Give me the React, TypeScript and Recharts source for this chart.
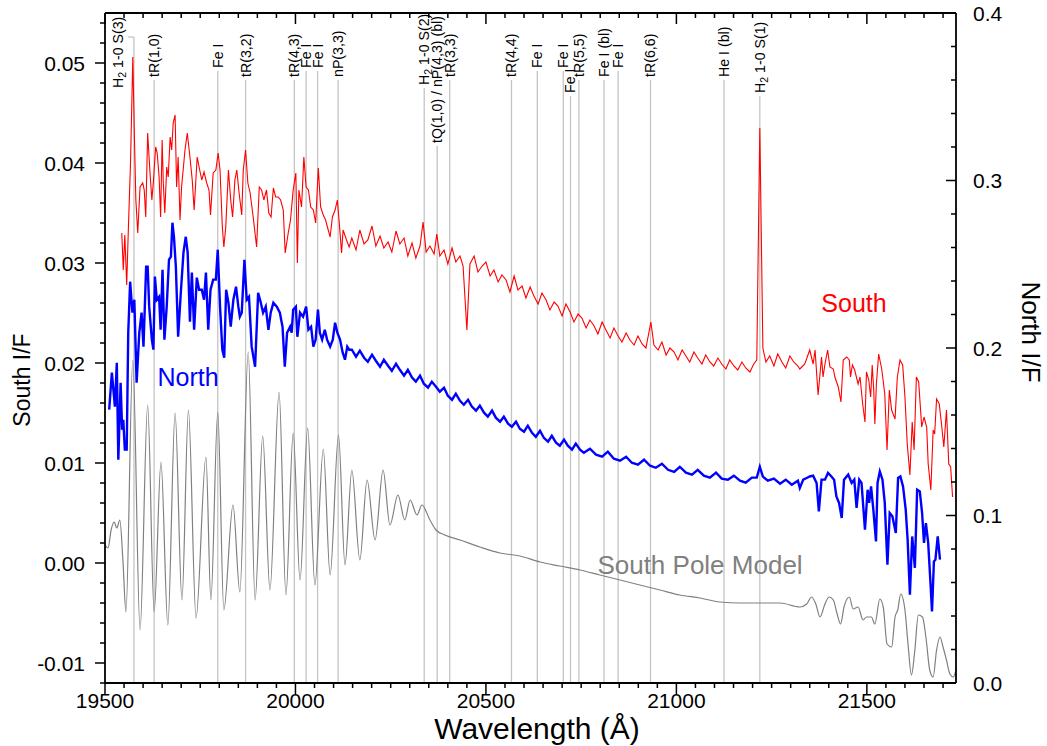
import React from "react";
import { LineChart, Line, XAxis, YAxis, ReferenceLine } from "recharts";

// South spectrum, South I/F (left axis)
const SOUTH_WL = [
  19544, 19548, 19552, 19557, 19561, 19567, 19573, 19577, 19581, 19586, 19592, 19599, 19603, 19607, 19612,
  19618, 19623, 19627, 19633, 19637, 19642, 19646, 19650, 19653, 19657, 19662, 19666, 19671, 19675, 19679,
  19684, 19688, 19692, 19697, 19701, 19710, 19716, 19723, 19729, 19734, 19742, 19747, 19754, 19760, 19767,
  19773, 19777, 19784, 19791, 19797, 19802, 19808, 19812, 19817, 19824, 19830, 19835, 19841, 19846, 19852,
  19859, 19863, 19869, 19875, 19881, 19889, 19898, 19905, 19911, 19917, 19924, 19930, 19936, 19942, 19948,
  19955, 19961, 19968, 19973, 19981, 19987, 19994, 20001, 20005, 20009, 20016, 20022, 20028, 20034, 20040,
  20047, 20053, 20060, 20066, 20073, 20079, 20086, 20091, 20097, 20104, 20110, 20115, 20121, 20125, 20134,
  20141, 20148, 20159, 20169, 20180, 20190, 20201, 20211, 20222, 20232, 20243, 20253, 20264, 20274, 20285,
  20295, 20306, 20316, 20327, 20335, 20343, 20353, 20364, 20371, 20379, 20390, 20400, 20411, 20421, 20432,
  20440, 20450, 20458, 20469, 20479, 20490, 20500, 20511, 20521, 20532, 20542, 20553, 20563, 20574, 20584,
  20595, 20605, 20616, 20626, 20637, 20647, 20658, 20668, 20679, 20689, 20700, 20710, 20721, 20731, 20742,
  20752, 20763, 20773, 20784, 20794, 20805, 20815, 20826, 20836, 20847, 20857, 20868, 20878, 20889, 20899,
  20910, 20920, 20933, 20941, 20952, 20962, 20973, 20983, 20994, 21004, 21015, 21025, 21035, 21046, 21056,
  21067, 21077, 21088, 21098, 21109, 21119, 21130, 21140, 21151, 21161, 21172, 21182, 21193, 21203, 21211,
  21219, 21227, 21235, 21245, 21256, 21266, 21277, 21287, 21298, 21308, 21319, 21324, 21337, 21350, 21359,
  21364, 21372, 21381, 21385, 21390, 21397, 21403, 21412, 21416, 21425, 21432, 21438, 21447, 21454, 21457,
  21462, 21468, 21477, 21482, 21489, 21495, 21499, 21505, 21510, 21514, 21518, 21521, 21525, 21531, 21539,
  21547, 21553, 21559, 21565, 21574, 21580, 21587, 21594, 21600, 21606, 21613, 21619, 21624, 21630, 21636,
  21644, 21650, 21657, 21661, 21668, 21674, 21678, 21683, 21690, 21696, 21702, 21709, 21715, 21720, 21725,
];
const SOUTH_IF = [
  0.0330, 0.0293, 0.0328, 0.0278, 0.0330, 0.0400, 0.0506, 0.0430, 0.0363, 0.0330, 0.0376, 0.0380, 0.0373, 0.0346, 0.0430,
  0.0391, 0.0363, 0.0381, 0.0416, 0.0410, 0.0386, 0.0346, 0.0423, 0.0380, 0.0350, 0.0396, 0.0386, 0.0426, 0.0413, 0.0440,
  0.0448, 0.0376, 0.0406, 0.0343, 0.0376, 0.0413, 0.0430, 0.0406, 0.0383, 0.0353, 0.0406, 0.0396, 0.0383, 0.0391, 0.0380,
  0.0373, 0.0348, 0.0390, 0.0393, 0.0410, 0.0393, 0.0336, 0.0316, 0.0336, 0.0393, 0.0363, 0.0346, 0.0383, 0.0393, 0.0370,
  0.0348, 0.0393, 0.0413, 0.0380, 0.0370, 0.0346, 0.0316, 0.0376, 0.0373, 0.0363, 0.0373, 0.0350, 0.0346, 0.0375, 0.0366,
  0.0366, 0.0363, 0.0353, 0.0310, 0.0330, 0.0343, 0.0373, 0.0390, 0.0300, 0.0373, 0.0356, 0.0406, 0.0376, 0.0373, 0.0356,
  0.0353, 0.0340, 0.0395, 0.0356, 0.0348, 0.0343, 0.0333, 0.0326, 0.0346, 0.0353, 0.0363, 0.0340, 0.0310, 0.0333, 0.0323,
  0.0316, 0.0325, 0.0313, 0.0333, 0.0319, 0.0323, 0.0337, 0.0317, 0.0327, 0.0315, 0.0321, 0.0311, 0.0332, 0.0319, 0.0325,
  0.0307, 0.0320, 0.0305, 0.0317, 0.0341, 0.0311, 0.0317, 0.0309, 0.0329, 0.0307, 0.0313, 0.0299, 0.0315, 0.0301, 0.0307,
  0.0297, 0.0233, 0.0299, 0.0307, 0.0291, 0.0297, 0.0301, 0.0287, 0.0293, 0.0281, 0.0288, 0.0283, 0.0271, 0.0287, 0.0273,
  0.0277, 0.0265, 0.0276, 0.0267, 0.0259, 0.0270, 0.0263, 0.0253, 0.0261, 0.0257, 0.0247, 0.0259, 0.0251, 0.0241, 0.0249,
  0.0245, 0.0235, 0.0243, 0.0237, 0.0229, 0.0241, 0.0233, 0.0225, 0.0235, 0.0227, 0.0221, 0.0230, 0.0223, 0.0218, 0.0227,
  0.0219, 0.0215, 0.0241, 0.0218, 0.0213, 0.0221, 0.0208, 0.0215, 0.0211, 0.0203, 0.0213, 0.0207, 0.0201, 0.0211, 0.0205,
  0.0199, 0.0208, 0.0201, 0.0197, 0.0205, 0.0199, 0.0194, 0.0203, 0.0197, 0.0193, 0.0201, 0.0195, 0.0191, 0.0199, 0.0203,
  0.0435, 0.0215, 0.0201, 0.0207, 0.0197, 0.0209, 0.0201, 0.0195, 0.0207, 0.0201, 0.0197, 0.0194, 0.0199, 0.0213, 0.0199,
  0.0213, 0.0168, 0.0206, 0.0186, 0.0199, 0.0213, 0.0196, 0.0194, 0.0186, 0.0176, 0.0161, 0.0203, 0.0206, 0.0203, 0.0186,
  0.0198, 0.0193, 0.0179, 0.0186, 0.0159, 0.0141, 0.0191, 0.0183, 0.0166, 0.0198, 0.0173, 0.0139, 0.0179, 0.0209, 0.0194,
  0.0169, 0.0113, 0.0173, 0.0153, 0.0144, 0.0186, 0.0203, 0.0198, 0.0166, 0.0119, 0.0088, 0.0141, 0.0113, 0.0186, 0.0181,
  0.0136, 0.0146, 0.0136, 0.0099, 0.0073, 0.0133, 0.0129, 0.0164, 0.0159, 0.0139, 0.0116, 0.0153, 0.0099, 0.0096, 0.0066,
];

// North spectrum, North I/F (right axis)
const NORTH_WL = [
  19511, 19518, 19522, 19526, 19531, 19535, 19541, 19545, 19548, 19552, 19557, 19561, 19566, 19572, 19577,
  19583, 19590, 19596, 19601, 19608, 19612, 19616, 19623, 19627, 19631, 19636, 19642, 19646, 19651, 19656,
  19662, 19668, 19673, 19677, 19681, 19686, 19692, 19699, 19706, 19712, 19717, 19723, 19728, 19734, 19741,
  19747, 19754, 19760, 19765, 19771, 19777, 19784, 19791, 19796, 19802, 19808, 19813, 19818, 19824, 19830,
  19837, 19844, 19850, 19854, 19859, 19866, 19872, 19878, 19885, 19894, 19902, 19909, 19915, 19922, 19929,
  19935, 19942, 19951, 19959, 19966, 19972, 19978, 19986, 19990, 19994, 20001, 20005, 20012, 20020, 20028,
  20034, 20041, 20047, 20053, 20059, 20064, 20070, 20077, 20083, 20091, 20098, 20104, 20110, 20117, 20124,
  20130, 20136, 20141, 20148, 20159, 20169, 20180, 20190, 20201, 20211, 20222, 20232, 20243, 20253, 20264,
  20274, 20285, 20295, 20306, 20316, 20327, 20337, 20348, 20358, 20369, 20379, 20390, 20400, 20411, 20421,
  20432, 20442, 20453, 20463, 20474, 20484, 20495, 20505, 20516, 20526, 20537, 20547, 20558, 20568, 20579,
  20589, 20600, 20610, 20621, 20631, 20642, 20652, 20663, 20673, 20684, 20694, 20705, 20715, 20726, 20736,
  20747, 20757, 20773, 20789, 20805, 20820, 20836, 20852, 20868, 20883, 20899, 20915, 20931, 20946, 20962,
  20978, 20994, 21009, 21025, 21041, 21056, 21072, 21088, 21104, 21119, 21135, 21151, 21167, 21182, 21198,
  21211, 21219, 21227, 21240, 21256, 21272, 21287, 21303, 21319, 21324, 21333, 21342, 21350, 21359, 21368,
  21374, 21381, 21390, 21398, 21407, 21414, 21420, 21427, 21434, 21440, 21451, 21460, 21467, 21473, 21480,
  21486, 21495, 21502, 21506, 21511, 21517, 21524, 21528, 21534, 21541, 21547, 21554, 21560, 21567, 21576,
  21582, 21588, 21595, 21602, 21607, 21613, 21619, 21626, 21632, 21639, 21645, 21650, 21655, 21661, 21667,
  21671, 21676, 21680, 21686, 21692,
];
const NORTH_IF = [
  0.1632, 0.1853, 0.1751, 0.1650, 0.1912, 0.1333, 0.1793, 0.1512, 0.1572, 0.1393, 0.1393, 0.2091, 0.2396, 0.2211, 0.2288,
  0.1793, 0.2091, 0.2211, 0.2008, 0.2485, 0.2485, 0.2247, 0.2050, 0.1990, 0.2426, 0.2288, 0.2306, 0.2109, 0.2467, 0.2050,
  0.2247, 0.2527, 0.2545, 0.2748, 0.2664, 0.2485, 0.2067, 0.2330, 0.2569, 0.2664, 0.2569, 0.2157, 0.2450, 0.2109, 0.2420,
  0.2348, 0.2348, 0.2288, 0.2450, 0.2109, 0.2348, 0.2408, 0.2408, 0.2587, 0.2247, 0.1990, 0.1942, 0.2348, 0.2270, 0.2127,
  0.2288, 0.2366, 0.2247, 0.2187, 0.2211, 0.2527, 0.2288, 0.2306, 0.2008, 0.1888, 0.2330, 0.2270, 0.2211, 0.2247, 0.2109,
  0.2211, 0.2270, 0.2247, 0.2211, 0.2127, 0.1888, 0.2091, 0.2127, 0.2091, 0.2229, 0.2247, 0.2067, 0.2211, 0.2187, 0.2247,
  0.2109, 0.2127, 0.2008, 0.2050, 0.2229, 0.2091, 0.2050, 0.2109, 0.2050, 0.2008, 0.2050, 0.2151, 0.2091, 0.2050, 0.1972,
  0.1930, 0.2008, 0.1990, 0.1990, 0.1948, 0.1984, 0.1942, 0.1918, 0.1960, 0.1924, 0.1888, 0.1930, 0.1894, 0.1864, 0.1906,
  0.1870, 0.1835, 0.1870, 0.1823, 0.1799, 0.1835, 0.1787, 0.1763, 0.1799, 0.1769, 0.1739, 0.1763, 0.1715, 0.1691, 0.1727,
  0.1685, 0.1661, 0.1691, 0.1650, 0.1626, 0.1656, 0.1614, 0.1590, 0.1626, 0.1584, 0.1560, 0.1590, 0.1548, 0.1530, 0.1560,
  0.1518, 0.1500, 0.1536, 0.1494, 0.1470, 0.1506, 0.1464, 0.1441, 0.1476, 0.1435, 0.1417, 0.1453, 0.1417, 0.1393, 0.1429,
  0.1393, 0.1375, 0.1399, 0.1363, 0.1351, 0.1381, 0.1339, 0.1327, 0.1351, 0.1315, 0.1303, 0.1333, 0.1297, 0.1285, 0.1309,
  0.1273, 0.1261, 0.1291, 0.1256, 0.1244, 0.1273, 0.1238, 0.1226, 0.1256, 0.1220, 0.1214, 0.1238, 0.1208, 0.1196, 0.1226,
  0.1226, 0.1291, 0.1232, 0.1208, 0.1220, 0.1190, 0.1214, 0.1184, 0.1208, 0.1164, 0.1214, 0.1224, 0.1233, 0.1238, 0.1194,
  0.1024, 0.1214, 0.1214, 0.1254, 0.1233, 0.1214, 0.1114, 0.1075, 0.0985, 0.1214, 0.1244, 0.1194, 0.1214, 0.1045, 0.1214,
  0.1194, 0.0915, 0.1154, 0.1075, 0.1174, 0.1035, 0.0845, 0.1194, 0.1263, 0.1214, 0.1075, 0.0706, 0.1015, 0.0995, 0.0896,
  0.1224, 0.1233, 0.1174, 0.1035, 0.0856, 0.0527, 0.0875, 0.0687, 0.1154, 0.1144, 0.1015, 0.0836, 0.0955, 0.0836, 0.0597,
  0.0427, 0.0726, 0.0736, 0.0875, 0.0736,
];

// South Pole model (left axis)
const MODEL_WL = [
  19500, 19508, 19516, 19524, 19531, 19539, 19547, 19555, 19573, 19592, 19612, 19629, 19647, 19665, 19684,
  19702, 19719, 19739, 19765, 19778, 19796, 19812, 19836, 19854, 19876, 19894, 19914, 19933, 19957, 19975,
  19994, 20012, 20032, 20051, 20073, 20091, 20113, 20130, 20148, 20169, 20188, 20209, 20230, 20248, 20269,
  20287, 20301, 20319, 20332, 20353, 20369, 20392, 20432, 20484, 20537, 20589, 20642, 20694, 20747, 20799,
  20852, 20904, 20957, 21009, 21062, 21114, 21167, 21219, 21272, 21324, 21342, 21355, 21366, 21377, 21390,
  21401, 21412, 21422, 21431, 21440, 21454, 21464, 21477, 21490, 21499, 21512, 21521, 21534, 21543, 21553,
  21565, 21574, 21581, 21589, 21600, 21608, 21617, 21626, 21635, 21646, 21655, 21665, 21674, 21683, 21692,
  21700, 21709, 21718, 21727, 21734,
];
const MODEL_IF = [
  0.0018, 0.0015, 0.0033, 0.0041, 0.0035, 0.0043, 0.0003, -0.0049, 0.0203, -0.0067, 0.0158, -0.0049, 0.0101, -0.0062, 0.0150,
  -0.0037, 0.0153, -0.0055, 0.0106, -0.0037, 0.0151, -0.0047, 0.0058, -0.0029, 0.0211, -0.0037, 0.0127, -0.0027, 0.0171, -0.0032,
  0.0130, -0.0017, 0.0135, -0.0022, 0.0114, -0.0012, 0.0128, -0.0002, 0.0093, 0.0003, 0.0083, 0.0023, 0.0093, 0.0038, 0.0068,
  0.0043, 0.0063, 0.0048, 0.0058, 0.0043, 0.0033, 0.0028, 0.0023, 0.0016, 0.0010, 0.0007, 0.0001, -0.0003, -0.0007, -0.0012,
  -0.0017, -0.0022, -0.0027, -0.0032, -0.0035, -0.0039, -0.0040, -0.0040, -0.0040, -0.0044, -0.0041, -0.0034, -0.0041, -0.0054, -0.0041,
  -0.0034, -0.0037, -0.0051, -0.0061, -0.0044, -0.0034, -0.0046, -0.0044, -0.0057, -0.0054, -0.0054, -0.0061, -0.0036, -0.0044, -0.0081,
  -0.0084, -0.0054, -0.0047, -0.0031, -0.0047, -0.0081, -0.0112, -0.0087, -0.0052, -0.0054, -0.0074, -0.0107, -0.0114, -0.0087, -0.0074,
  -0.0084, -0.0097, -0.0111, -0.0114, -0.0107,
];

// Line identifications
const LINE_WL = [
  19576, 19629, 19796, 19869, 19997, 20028, 20058, 20112, 20338, 20372, 20405,
  20567, 20635, 20703, 20722, 20744, 20810, 20847, 20932, 21125, 21219,
];
const LINE_LABEL = [
  "H2 1-0 S(3)", "tR(1,0)", "Fe I", "tR(3,2)", "tR(4,3)", "Fe I", "Fe I", "nP(3,3)", "H2 1-0 S(2)",
  "tQ(1,0) / nP(4,3) (bl)", "tR(3,3)", "tR(4,4)", "Fe I", "Fe I", "Fe I", "tR(5,5)", "Fe I (bl)", "Fe I",
  "tR(6,6)", "He I (bl)", "H2 1-0 S(1)",
];
// where each marker starts, px below the top of the plot
const LINE_DROP = [24, 67, 58, 67, 67, 58, 58, 67, 75, 133, 67, 67, 58, 58, 83, 67, 67, 58, 67, 67, 83];

const X_DOMAIN = [19500, 21734];
const LEFT_DOMAIN = [-0.012, 0.055];
const RIGHT_DOMAIN = [0, 0.4];

const X_TICKS = Array.from({ length: 45 }, (_, i) => 19500 + 50 * i);
const LEFT_TICKS = Array.from({ length: 34 }, (_, i) => (i - 6) * 0.002);
const RIGHT_TICKS = Array.from({ length: 21 }, (_, i) => i * 0.02);

const FONT = "'Liberation Sans', Arial, sans-serif";
const LINE_GREY = "#c4c4c4";
const TICK_FONT = 21;

const pair = (wl: number[], v: number[]) => wl.map((w, i) => ({ wl: w, v: v[i] }));
const southData = pair(SOUTH_WL, SOUTH_IF);
const northData = pair(NORTH_WL, NORTH_IF);
const modelData = pair(MODEL_WL, MODEL_IF);

const isMajor = (v: number, step: number) => Math.abs(v / step - Math.round(v / step)) < 1e-6;

const BottomTick = (p: any) => {
  const v = p.payload.value;
  const major = isMajor(v, 500);
  return (
    <g>
      <line x1={p.x} x2={p.x} y1={p.y} y2={p.y + (major ? 11 : 5)} stroke="#000" strokeWidth={1.5} />
      {major && (
        <text x={p.x} y={p.y + 25} textAnchor="middle" fontSize={TICK_FONT} fontFamily={FONT} fill="#000">
          {v}
        </text>
      )}
    </g>
  );
};

const TopTick = (p: any) => {
  const major = isMajor(p.payload.value, 500);
  return <line x1={p.x} x2={p.x} y1={p.y} y2={p.y + (major ? 11 : 5)} stroke="#000" strokeWidth={1.5} />;
};

const LeftTick = (p: any) => {
  const v = p.payload.value;
  const major = isMajor(v, 0.01);
  return (
    <g>
      <line x1={p.x - (major ? 10 : 5)} x2={p.x} y1={p.y} y2={p.y} stroke="#000" strokeWidth={1.5} />
      {major && (
        <text x={p.x - 20} y={p.y + 7.5} textAnchor="end" fontSize={TICK_FONT} fontFamily={FONT} fill="#000">
          {Math.abs(v) < 1e-9 ? "0.00" : v.toFixed(2)}
        </text>
      )}
    </g>
  );
};

const RightTick = (p: any) => {
  const v = p.payload.value;
  const major = isMajor(v, 0.1);
  return (
    <g>
      <line x1={p.x - (major ? 10 : 5)} x2={p.x} y1={p.y} y2={p.y} stroke="#000" strokeWidth={1.5} />
      {major && (
        <text x={p.x + 17} y={p.y + 7.5} textAnchor="start" fontSize={TICK_FONT} fontFamily={FONT} fill="#000">
          {v.toFixed(1)}
        </text>
      )}
    </g>
  );
};

const renderLabel = (label: string) => {
  if (label.startsWith("H2 ")) {
    return [
      <tspan key="a">H</tspan>,
      <tspan key="b" dy={4} fontSize={10.5}>2</tspan>,
      <tspan key="c" dy={-4}>{label.slice(2)}</tspan>,
    ];
  }
  return label;
};

const markerShape = (i: number) => (p: any) => {
  const x = p.x1;
  const top = Math.min(p.y1, p.y2);
  const bottom = Math.max(p.y1, p.y2);
  const y0 = top + LINE_DROP[i];
  const bracket = i === 0;
  const lx = bracket ? x - 16 : x;
  const ly = bracket ? y0 + 51 : y0 - 3;
  return (
    <g>
      <line x1={x} x2={x} y1={y0} y2={bottom} stroke={LINE_GREY} strokeWidth={1.3} />
      {bracket && <line x1={x - 6} x2={x} y1={y0} y2={y0} stroke={LINE_GREY} strokeWidth={1.3} />}
      <text
        x={lx}
        y={ly}
        transform={`rotate(-90 ${lx} ${ly})`}
        fontSize={14.2}
        fontFamily={FONT}
        fill="#000"
        dominantBaseline="central"
      >
        {renderLabel(LINE_LABEL[i])}
      </text>
    </g>
  );
};

const axisLine = { stroke: "#000", strokeWidth: 1.8 };

const textStyle = (left: number, top: number, size: number, color: string, rotate = 0): React.CSSProperties => ({
  position: "absolute",
  left,
  top,
  transform: `translate(-50%, -50%) rotate(${rotate}deg)`,
  fontSize: size,
  color,
  whiteSpace: "nowrap",
  lineHeight: 1,
});

export default function App() {
  return (
    <div style={{ position: "relative", width: 1047, height: 746, fontFamily: FONT, background: "#fff" }}>
      <style>{"body{margin:0}"}</style>
      <LineChart width={1047} height={746} margin={{ top: 0, right: 0, bottom: 0, left: 0 }}>
        <XAxis
          xAxisId="b"
          dataKey="wl"
          type="number"
          domain={X_DOMAIN}
          allowDataOverflow
          ticks={X_TICKS}
          interval={0}
          height={63}
          tickSize={0}
          tickMargin={0}
          tickLine={false}
          axisLine={axisLine}
          tick={<BottomTick />}
        />
        <XAxis
          xAxisId="t"
          orientation="top"
          dataKey="wl"
          type="number"
          domain={X_DOMAIN}
          allowDataOverflow
          ticks={X_TICKS}
          interval={0}
          height={13}
          tickSize={0}
          tickMargin={0}
          tickLine={false}
          axisLine={axisLine}
          tick={<TopTick />}
        />
        <YAxis
          yAxisId="left"
          type="number"
          domain={LEFT_DOMAIN}
          allowDataOverflow
          ticks={LEFT_TICKS}
          interval={0}
          width={105}
          tickSize={0}
          tickMargin={0}
          tickLine={false}
          axisLine={axisLine}
          tick={<LeftTick />}
        />
        <YAxis
          yAxisId="right"
          orientation="right"
          type="number"
          domain={RIGHT_DOMAIN}
          allowDataOverflow
          ticks={RIGHT_TICKS}
          interval={0}
          width={91}
          tickSize={0}
          tickMargin={0}
          tickLine={false}
          axisLine={axisLine}
          tick={<RightTick />}
        />
        {LINE_WL.map((wl, i) => (
          <ReferenceLine
            key={`m${i}`}
            xAxisId="b"
            yAxisId="left"
            x={wl}
            ifOverflow="visible"
            shape={markerShape(i)}
          />
        ))}
        <Line
          xAxisId="t"
          yAxisId="left"
          data={modelData}
          dataKey="v"
          type="monotone"
          stroke="#808080"
          strokeWidth={1.2}
          dot={false}
          isAnimationActive={false}
        />
        <Line
          xAxisId="b"
          yAxisId="right"
          data={northData}
          dataKey="v"
          stroke="#0000ff"
          strokeWidth={2.4}
          dot={false}
          isAnimationActive={false}
        />
        <Line
          xAxisId="b"
          yAxisId="left"
          data={southData}
          dataKey="v"
          stroke="#ff0000"
          strokeWidth={1.1}
          dot={false}
          isAnimationActive={false}
        />
      </LineChart>

      <div style={textStyle(22, 380, 23, "#000", -90)}>South I/F</div>
      <div style={textStyle(1031, 332, 26, "#000", 90)}>North I/F</div>
      <div style={textStyle(537, 729, 30, "#000")}>Wavelength (Å)</div>
      <div style={textStyle(854, 303, 25, "#ff0000")}>South</div>
      <div style={textStyle(188, 377, 25, "#0000ff")}>North</div>
      <div style={textStyle(700, 565, 26, "#808080")}>South Pole Model</div>
    </div>
  );
}
